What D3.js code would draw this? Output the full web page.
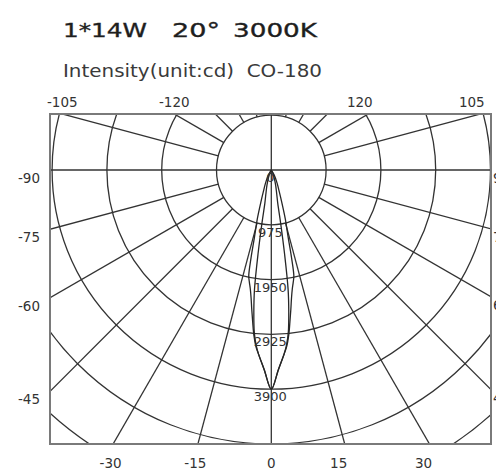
<!DOCTYPE html>
<html>
<head>
<meta charset="utf-8">
<script src="https://cdn.jsdelivr.net/npm/d3@7"></script>
<style>
  html, body { margin: 0; padding: 0; background: #fff; }
  svg { display: block; }
</style>
</head>
<body>
<svg id="chart" width="496" height="471"></svg>
<script>
// ---- text ----
const titleParts = ["1*14W", "20°", "3000K"];
const subtitleText = "Intensity(unit:cd)  CO-180";

// ---- radial grid (cd) ----
const ringLabels = [0, 975, 1950, 2925, 3900];
const gridRings = [975, 1950, 2925, 3900, 4875, 5850, 6825];

// ---- angular tick labels (deg, 0 = straight down) ----
const bottomTicks = [-30, -15, 0, 15, 30];
const leftTicks = [-45, -60, -75, -90];
const rightTicks = [45, 60, 75, 90];
const topTicks = [-105, -120, 120, 105];

// ---- luminous intensity curves ----
const c0Angles = [-90, -40, -30, -24, -20, -18, -16, -15, -14, -13, -12, -11, -10, -9, -8, -7, -6, -5, -4, -2, 0,
                  2, 4, 5, 6, 7, 8, 9, 10, 11, 12, 13, 14, 15, 16, 18, 20, 24, 30, 40, 90];
const c0Values = [0, 0, 100, 250, 420, 600, 900, 1050, 1250, 1600, 1930, 2040, 2150, 2300, 2500, 2720, 2960, 3150, 3280, 3560, 3900,
                  3560, 3280, 3150, 2960, 2720, 2500, 2300, 2150, 2040, 1930, 1600, 1250, 1050, 900, 600, 420, 250, 100, 0, 0];

const c90Angles = [-90, -35, -25, -20, -16, -13, -11, -10, -9, -8, -7, -6, -5, -4, -2, 0,
                   2, 4, 5, 6, 7, 8, 9, 10, 11, 13, 16, 20, 25, 35, 90];
const c90Values = [0, 0, 60, 150, 280, 420, 600, 950, 1500, 2150, 2550, 2900, 3120, 3280, 3560, 3900,
                   3560, 3280, 3120, 2900, 2550, 2150, 1500, 950, 600, 420, 280, 150, 60, 0, 0];

// ---- layout ----
const W = 496, H = 471;
const box = { left: 50, right: 491, top: 114, bottom: 444 };
const cx = 271.3, cy = 170;
const font = "'DejaVu Sans', 'Liberation Sans', Arial, sans-serif";

const svg = d3.select("#chart").attr("width", W).attr("height", H);

const r = d3.scaleLinear().domain([0, 3900]).range([0, 219.2]);
// polar angle: 0 deg points down, positive to the right
const ang = d3.scaleLinear().domain([0, 180]).range([Math.PI, 0]);

function polar(deg, rad) {
  const a = ang(deg);
  return [cx + rad * Math.sin(a), cy - rad * Math.cos(a)];
}
// where a ray from the centre leaves the frame
function edgeHit(deg) {
  const a = ang(deg);
  const dx = Math.sin(a), dy = -Math.cos(a);
  const ts = [];
  if (dx > 1e-9) ts.push((box.right - cx) / dx);
  if (dx < -1e-9) ts.push((box.left - cx) / dx);
  if (dy > 1e-9) ts.push((box.bottom - cy) / dy);
  if (dy < -1e-9) ts.push((box.top - cy) / dy);
  const t = d3.min(ts);
  return [cx + dx * t, cy + dy * t];
}

svg.append("clipPath").attr("id", "frame")
  .append("rect")
  .attr("x", box.left).attr("y", box.top)
  .attr("width", box.right - box.left).attr("height", box.bottom - box.top);

const grid = svg.append("g").attr("clip-path", "url(#frame)")
  .attr("fill", "none").attr("stroke", "#333").attr("stroke-width", 1.3);

// concentric rings
grid.selectAll("circle.ring").data(gridRings).join("circle")
  .attr("class", "ring")
  .attr("cx", cx).attr("cy", cy)
  .attr("r", d => r(d));

// spokes every 15 deg, starting at the first ring
const spokeAngles = d3.range(-165, 181, 15).filter(d => d % 90 !== 0);
const rInner = r(gridRings[0]), rOuter = 500;
grid.selectAll("line.spoke").data(spokeAngles).join("line")
  .attr("class", "spoke")
  .attr("x1", d => polar(d, rInner)[0]).attr("y1", d => polar(d, rInner)[1])
  .attr("x2", d => polar(d, rOuter)[0]).attr("y2", d => polar(d, rOuter)[1]);

// main axes through the centre
grid.selectAll("line.axis").data([0, 90]).join("line")
  .attr("class", "axis")
  .attr("x1", d => polar(d, rOuter)[0]).attr("y1", d => polar(d, rOuter)[1])
  .attr("x2", d => polar(d + 180, rOuter)[0]).attr("y2", d => polar(d + 180, rOuter)[1]);

// intensity curves
const lineGen = d3.lineRadial()
  .angle(d => ang(d[0]))
  .radius(d => r(d[1]))
  .curve(d3.curveCatmullRom.alpha(0.5));

const curves = svg.append("g").attr("clip-path", "url(#frame)")
  .append("g")
  .attr("transform", `translate(${cx},${cy})`)
  .attr("fill", "none").attr("stroke", "#262626").attr("stroke-width", 1.3);

curves.append("path").attr("d", lineGen(d3.zip(c0Angles, c0Values)));
curves.append("path").attr("d", lineGen(d3.zip(c90Angles, c90Values)));

// frame
svg.append("rect")
  .attr("x", box.left).attr("y", box.top)
  .attr("width", box.right - box.left).attr("height", box.bottom - box.top)
  .attr("fill", "none").attr("stroke", "#7a7a7a").attr("stroke-width", 2);

// ring value labels along the downward axis
svg.append("g").selectAll("text").data(ringLabels).join("text")
  .attr("x", cx - 1)
  .attr("y", d => cy + r(d) + 7.5)
  .attr("text-anchor", "middle")
  .attr("dominant-baseline", "central")
  .attr("font-family", font).attr("font-size", 13)
  .attr("fill", "#333")
  .text(d => d);

// angular labels
const tickG = svg.append("g")
  .attr("font-family", font).attr("font-size", 13.5).attr("fill", "#333")
  .attr("dominant-baseline", "central");

tickG.selectAll("text.b").data(bottomTicks).join("text")
  .attr("class", "b")
  .attr("x", d => edgeHit(d)[0] + (d < 0 ? -2.5 : d > 0 ? -6 : 0))
  .attr("y", box.bottom + 19)
  .attr("text-anchor", "middle")
  .text(d => d);

tickG.selectAll("text.l").data(leftTicks).join("text")
  .attr("class", "l")
  .attr("x", box.left - 10)
  .attr("y", d => edgeHit(d)[1] + 8)
  .attr("text-anchor", "end")
  .text(d => d);

// the right-hand labels run off the edge of the page
tickG.selectAll("text.r").data(rightTicks).join("text")
  .attr("class", "r")
  .attr("x", box.right + 2)
  .attr("y", d => edgeHit(d)[1] + 8)
  .attr("text-anchor", "start")
  .text(d => d);

tickG.selectAll("text.t").data(topTicks).join("text")
  .attr("class", "t")
  .attr("x", d => edgeHit(d)[0] + (d > 0 ? -8.5 : 0))
  .attr("y", box.top - 12)
  .attr("text-anchor", "middle")
  .text(d => d);

// title and subtitle
const titleX = [63, 172, 233], titleW = [84, 48, 84];
svg.append("g").selectAll("text").data(titleParts).join("text")
  .attr("x", (d, i) => titleX[i])
  .attr("y", 37)
  .attr("font-family", font).attr("font-size", 19)
  .attr("fill", "#1e1e1e").attr("stroke", "#1e1e1e").attr("stroke-width", 0.35)
  .attr("textLength", (d, i) => titleW[i])
  .attr("lengthAdjust", "spacingAndGlyphs")
  .text(d => d);

svg.append("text")
  .attr("x", 63).attr("y", 77)
  .attr("font-family", font).attr("font-size", 18.5)
  .attr("fill", "#3a3a3a")
  .attr("textLength", 259)
  .attr("lengthAdjust", "spacingAndGlyphs")
  .style("white-space", "pre")
  .text(subtitleText);
</script>
</body>
</html>
